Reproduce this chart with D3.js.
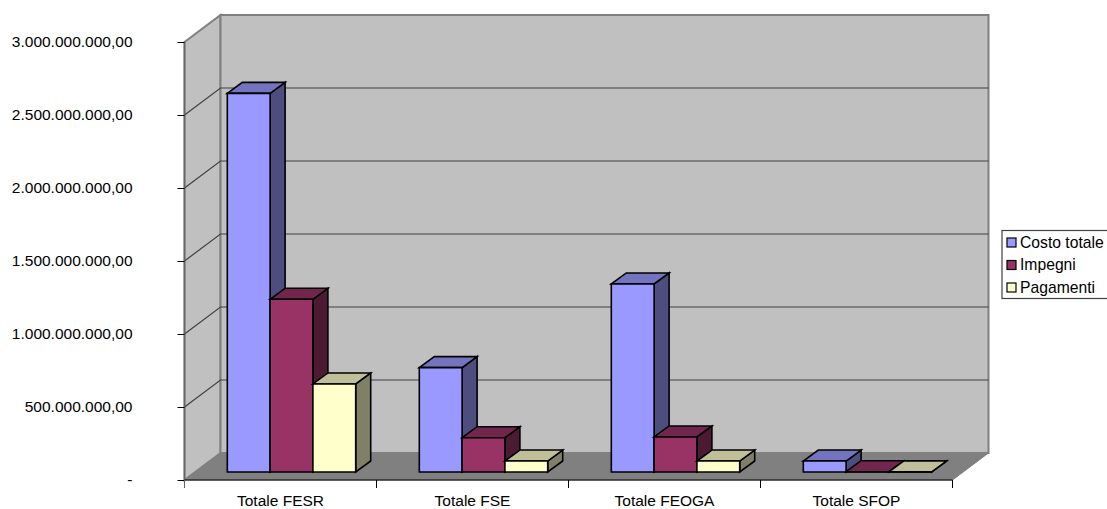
<!DOCTYPE html>
<html>
<head>
<meta charset="utf-8">
<script src="https://d3js.org/d3.v7.min.js"></script>
<style>
html, body { margin: 0; padding: 0; background: #fff; overflow: hidden; }
text { font-family: "Liberation Sans", Arial, sans-serif; fill: #000; }
.tick text { font-size: 15.5px; }
.legend text { font-size: 15.7px; }
</style>
</head>
<body>
<div id="chart"></div>
<script>
var categories = ["Totale FESR", "Totale FSE", "Totale FEOGA", "Totale SFOP"];
var seriesNames = ["Costo totale", "Impegni", "Pagamenti"];
var costoTotale = [2593000000, 715000000, 1288000000, 75000000];
var impegni = [1183000000, 235000000, 240000000, 2000000];
var pagamenti = [603000000, 75000000, 75000000, 1000000];
var yTicks = [0, 500000000, 1000000000, 1500000000, 2000000000, 2500000000, 3000000000];

var series = [costoTotale, impegni, pagamenti];
var colors = [
    {front: "#9999FF", top: "#7373BF", side: "#4D4D80"},
    {front: "#993366", top: "#73264D", side: "#4D1A33"},
    {front: "#FFFFCC", top: "#BFBF99", side: "#808066"}
];

var margin = {left: 184.5, top: 42},
    width = 768,
    height = 438,
    depthX = 36,
    depthY = 27;

var svg = d3.select("#chart").append("svg")
    .attr("width", 1107)
    .attr("height", 509)
    .style("display", "block");

var chart = svg.append("g")
    .attr("transform", "translate(" + margin.left + "," + margin.top + ")");

var y = d3.scaleLinear().domain([0, 3000000000]).range([height, 0]);
var x = d3.scaleBand().domain(categories).range([0, width]);

var it = d3.formatLocale({decimal: ",", thousands: ".", grouping: [3], currency: ["€", ""]});
var money = it.format(",.2f");

function poly(points, fill, stroke, sw) {
    chart.append("polygon")
        .attr("points", points.map(function (p) { return p.join(","); }).join(" "))
        .attr("fill", fill)
        .attr("stroke", stroke)
        .attr("stroke-width", sw)
        .attr("stroke-linejoin", "miter");
}

// walls and floor
poly([[0, 0], [depthX, -depthY], [depthX, height - depthY], [0, height]], "#C0C0C0", "#808080", 2);
poly([[depthX, -depthY], [width + depthX, -depthY], [width + depthX, height - depthY], [depthX, height - depthY]], "#C0C0C0", "#808080", 2);
poly([[0, height], [depthX, height - depthY], [width + depthX, height - depthY], [width, height]], "#808080", "#808080", 1);

// gridlines, side wall then back wall
yTicks.slice(1, -1).forEach(function (t) {
    chart.append("path")
        .attr("d", "M0," + y(t) + "L" + depthX + "," + (y(t) - depthY) + "H" + (width + depthX))
        .attr("fill", "none")
        .attr("stroke", "#404040")
        .attr("stroke-width", 1.2);
});

chart.append("line")
    .attr("x1", 0).attr("y1", 0).attr("x2", 0).attr("y2", height)
    .attr("stroke", "#666").attr("stroke-width", 1.5);

// axes
var yAxis = d3.axisLeft(y)
    .tickValues(yTicks)
    .tickSize(7)
    .tickPadding(45)
    .tickFormat(function (d) { return d === 0 ? "-" : money(d); });

var yg = chart.append("g").attr("class", "yaxis").call(yAxis);
yg.select(".domain").remove();

var xAxis = d3.axisBottom(x).tickSize(0).tickPadding(15);
var xg = chart.append("g")
    .attr("class", "xaxis")
    .attr("transform", "translate(0," + height + ")")
    .call(xAxis);
xg.select(".domain").remove();

chart.append("line")
    .attr("x1", 0).attr("x2", width)
    .attr("y1", height).attr("y2", height)
    .attr("stroke", "#000");

x.domain().concat(["end"]).forEach(function (c, i) {
    var px = i * x.bandwidth();
    chart.append("line")
        .attr("x1", px).attr("x2", px)
        .attr("y1", height).attr("y2", height + 8)
        .attr("stroke", i === 0 ? "#666" : "#000");
});

// bars sit in one row, so left to right is enough
var barW = 42.8, barDx = 15, barDy = 11, offX = 11, baseY = height - 8;

categories.forEach(function (c, ci) {
    var x0 = x(c) + x.bandwidth() / 2 - barW * 1.5 + offX;
    series.forEach(function (s, si) {
        var l = x0 + si * barW,
            r = l + barW,
            h = height - y(s[ci]),
            t = baseY - h,
            col = colors[si];
        // right side
        poly([[r, t], [r + barDx, t - barDy], [r + barDx, baseY - barDy], [r, baseY]], col.side, "#000", 1.6);
        // top
        poly([[l, t], [l + barDx, t - barDy], [r + barDx, t - barDy], [r, t]], col.top, "#000", 1.6);
        // front
        poly([[l, t], [r, t], [r, baseY], [l, baseY]], col.front, "#000", 1.6);
    });
});

// legend
var legend = svg.append("g").attr("class", "legend");
legend.append("rect")
    .attr("x", 1002).attr("y", 230.5)
    .attr("width", 110).attr("height", 68)
    .attr("fill", "#fff")
    .attr("stroke", "#404040")
    .attr("stroke-width", 1.2);

seriesNames.forEach(function (n, i) {
    var cy = 242.5 + i * 22.5;
    legend.append("rect")
        .attr("x", 1007).attr("y", cy - 4.5)
        .attr("width", 9).attr("height", 9)
        .attr("fill", colors[i].front)
        .attr("stroke", "#000")
        .attr("stroke-width", 1.2);
    legend.append("text")
        .attr("x", 1020)
        .attr("y", cy + 5)
        .text(n);
});
</script>
</body>
</html>
